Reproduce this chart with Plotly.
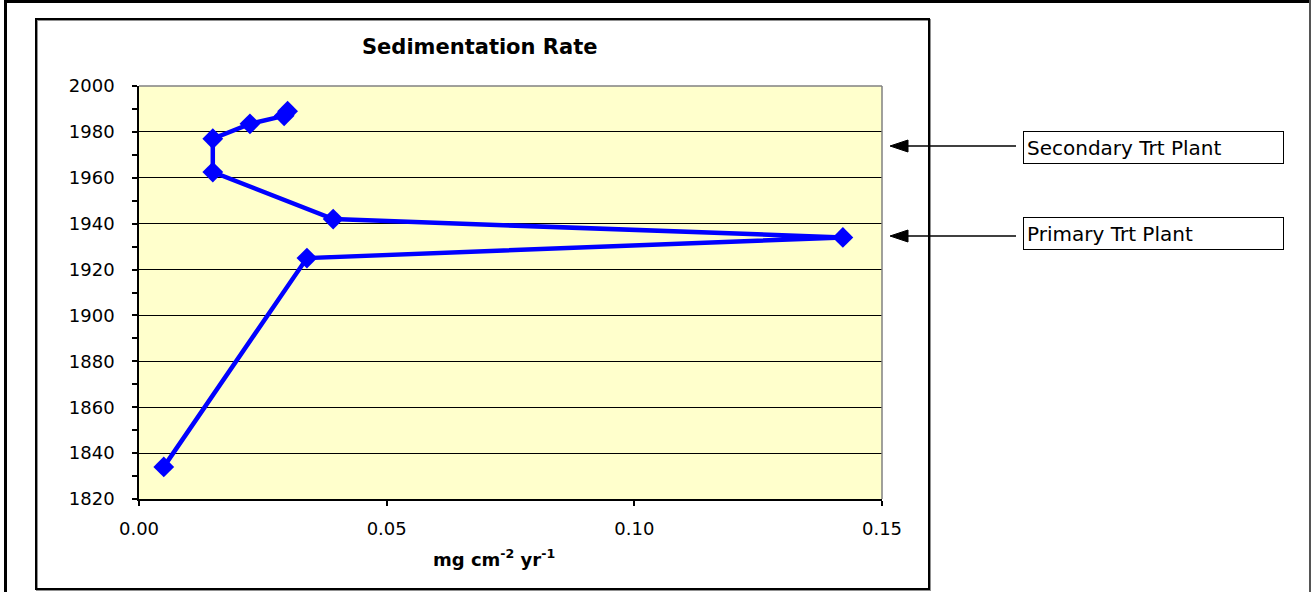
import plotly.graph_objects as go

# ---- data ----
rate = [0.005, 0.0339, 0.1421, 0.0392, 0.0149, 0.0149, 0.0224, 0.0293, 0.0300]
year = [1834, 1925, 1934, 1942, 1962.5, 1977, 1983.5, 1987, 1989]
x_ticks = [0.00, 0.05, 0.10, 0.15]
x_tick_labels = ["0.00", "0.05", "0.10", "0.15"]
y_ticks = [1820, 1840, 1860, 1880, 1900, 1920, 1940, 1960, 1980, 2000]
notes = ["Secondary Trt Plant", "Primary Trt Plant"]

W, H = 1312, 592
L, R, T, B = 139, 882, 86, 499  # plot area pixel bounds

def px(x):
    return (x - L) / (R - L)

def py(y):
    return (B - y) / (B - T)

FONT = "DejaVu Sans"

fig = go.Figure()
fig.add_trace(go.Scatter(
    x=rate, y=year, mode="lines+markers",
    line=dict(color="#0000FF", width=4.5),
    marker=dict(symbol="diamond", size=16, color="#0000FF"),
    showlegend=False, hoverinfo="skip",
))

shapes = []
# outer frame lines
shapes.append(dict(type="line", xref="paper", yref="paper", x0=px(4), x1=px(1311), y0=py(1.5), y1=py(1.5),
                   line=dict(color="black", width=3)))
shapes.append(dict(type="line", xref="paper", yref="paper", x0=px(5.5), x1=px(5.5), y0=py(0), y1=py(592),
                   line=dict(color="black", width=3)))
shapes.append(dict(type="line", xref="paper", yref="paper", x0=px(1310), x1=px(1310), y0=py(0), y1=py(592),
                   line=dict(color="#555555", width=2)))
# inner chart frame with shadow
shapes.append(dict(type="rect", xref="paper", yref="paper", x0=px(37), x1=px(930), y0=py(20), y1=py(590),
                   line=dict(color="#909090", width=2)))
shapes.append(dict(type="rect", xref="paper", yref="paper", x0=px(36), x1=px(929), y0=py(19), y1=py(589),
                   line=dict(color="black", width=2)))
# plot area border (gray top / right)
shapes.append(dict(type="line", xref="paper", yref="paper", x0=0, x1=1, y0=1, y1=1,
                   line=dict(color="#808080", width=1.5), layer="above"))
shapes.append(dict(type="line", xref="paper", yref="paper", x0=1, x1=1, y0=0, y1=1,
                   line=dict(color="#808080", width=1.5), layer="above"))

annotations = []
annotations.append(dict(xref="paper", yref="paper", x=px(479), y=py(47), text="<b>Sedimentation Rate</b>",
                        showarrow=False, xanchor="center", yanchor="middle",
                        font=dict(family=FONT, size=21, color="black")))
annotations.append(dict(xref="paper", yref="paper", x=px(494), y=py(558),
                        text="<b>mg cm<sup>-2</sup> yr<sup>-1</sup></b>",
                        showarrow=False, xanchor="center", yanchor="middle",
                        font=dict(family=FONT, size=18, color="black")))

box_y = [147, 234]
arrow_y = [146, 236]
for name, by, ay in zip(notes, box_y, arrow_y):
    # arrow shaft
    shapes.append(dict(type="line", xref="paper", yref="paper", x0=px(904), x1=px(1016), y0=py(ay), y1=py(ay),
                       line=dict(color="black", width=1.3)))
    # arrow head (filled triangle)
    shapes.append(dict(type="path", xref="paper", yref="paper",
                       path=f"M {px(890)} {py(ay)} L {px(908)} {py(ay - 6)} L {px(908)} {py(ay + 6)} Z",
                       fillcolor="black", line=dict(color="black", width=1)))
    # boxed label
    annotations.append(dict(xref="paper", yref="paper", x=px(1023), y=py(by), text=name,
                            showarrow=False, xanchor="left", yanchor="middle", align="left",
                            width=253, height=25, borderpad=3, borderwidth=1,
                            bordercolor="black", bgcolor="white",
                            font=dict(family=FONT, size=20, color="black")))

fig.update_layout(
    width=W, height=H,
    margin=dict(l=L, r=W - R, t=T, b=H - B),
    paper_bgcolor="white",
    plot_bgcolor="#FFFFCC",
    font=dict(family=FONT, size=18, color="black"),
    shapes=shapes,
    annotations=annotations,
    xaxis=dict(
        range=[0, 0.15], tickvals=x_ticks, ticktext=x_tick_labels,
        showgrid=False, zeroline=False,
        showline=True, linecolor="black", linewidth=1.5,
        ticks="outside", ticklen=5, tickcolor="black", tickwidth=1.5,
        ticklabelstandoff=8,
        tickfont=dict(family=FONT, size=18, color="black"),
    ),
    yaxis=dict(
        range=[1820, 2000], tickvals=y_ticks,
        showgrid=True, gridcolor="black", gridwidth=1,
        zeroline=False,
        showline=True, linecolor="black", linewidth=1.5,
        ticks="outside", ticklen=5, tickcolor="black", tickwidth=1.5,
        minor=dict(dtick=10, ticks="outside", ticklen=5, tickcolor="black", tickwidth=1.5, showgrid=False),
        ticklabelstandoff=14,
        tickfont=dict(family=FONT, size=18, color="black"),
    ),
)

fig.write_html("out.html", config={"displayModeBar": False},
               post_script="document.body.style.margin='0';document.body.style.overflow='hidden';")
